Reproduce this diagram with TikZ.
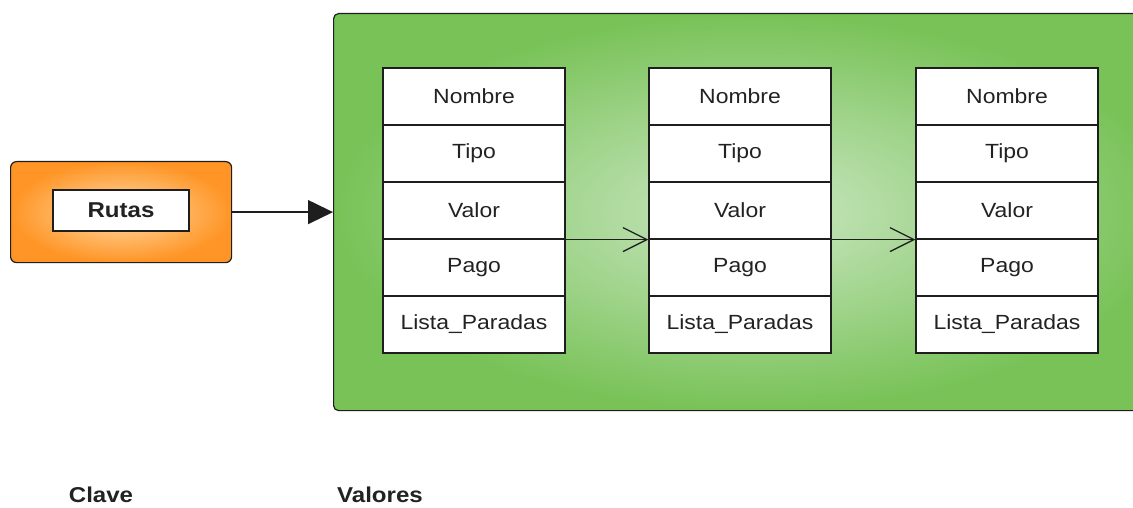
\documentclass[tikz,border=0pt]{standalone}
\usepackage{fontspec}
\setmainfont{Liberation Sans}
\newfontfamily\widefont[FakeStretch=1.12]{Liberation Sans}
\usetikzlibrary{arrows.meta}
\definecolor{gout}{HTML}{78C257}
\definecolor{gin}{HTML}{CBE7C3}
\definecolor{oout}{HTML}{FF9526}
\definecolor{oin}{HTML}{FFDCA8}
\definecolor{txt}{HTML}{222222}
\definecolor{edge}{HTML}{1E1E1E}
\begin{document}
\begin{tikzpicture}[x=1pt,y=-1pt,
  greenbox/.style={draw=edge, line width=1.2pt, rounded corners=5pt, inner color=gin, outer color=gout, rectangle, anchor=north west},
  orangebox/.style={draw=edge, line width=1.2pt, rounded corners=6pt, inner color=oin, outer color=oout, rectangle, anchor=north west},
  keybox/.style={draw=edge, line width=1.2pt, fill=white, rectangle, minimum width=136pt, minimum height=41pt, inner sep=0pt, text=txt, font=\widefont\fontsize{21.5}{24}\selectfont\bfseries},
  cell/.style={draw=edge, line width=1.2pt, fill=white, rectangle, minimum width=182pt, minimum height=57pt, inner sep=0pt, text=txt, font=\widefont\fontsize{20.5}{24}\selectfont},
  conn/.style={draw=edge, line width=1.3pt},
  lbl/.style={text=txt, inner sep=0pt, font=\widefont\fontsize{21.5}{24}\selectfont\bfseries}]
\useasboundingbox (0,0) rectangle (1133,508);
\fill[white] (0,0) rectangle (1133,508);
\begin{scope}
\clip (0,0) rectangle (1133,508);
\node[greenbox, minimum width=840pt, minimum height=397pt] (vals) at (333,13) {};
\end{scope}
\node[orangebox, minimum width=221pt, minimum height=101pt] (clave) at (10,161) {};
\node[keybox] (rutas) at (121,210.5) {Rutas};
\foreach \c/\x in {1/383,2/649,3/916}{
  \foreach \r/\t in {1/Nombre,2/Tipo,3/Valor,4/Pago,5/Lista\_Paradas}{
    \node[cell] (c\c-\r) at (\x+91, 68+57*\r-28.5) {\t};
  }
}
\draw[conn, -{Triangle[length=25pt,width=24pt]}] (clave.east) -- (vals.west);
\draw[conn, -{Straight Barb[length=24pt,width=24pt]}] (c1-3.south east) -- (c2-3.south west);
\draw[conn, -{Straight Barb[length=24pt,width=24pt]}] (c2-3.south east) -- (c3-3.south west);
\node[lbl] (k) at (101,495) {Clave};
\node[lbl] (v) at (380,495) {Valores};
\end{tikzpicture}
\end{document}
